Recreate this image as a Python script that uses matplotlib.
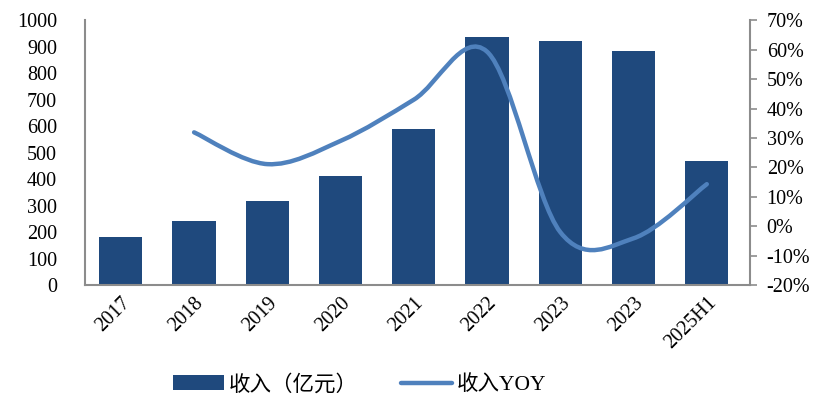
import numpy as np
import matplotlib
matplotlib.use('Agg')
import matplotlib.pyplot as plt
from matplotlib.path import Path
from matplotlib.patches import PathPatch
from matplotlib.lines import Line2D
from matplotlib.patches import Patch
from matplotlib.ticker import FuncFormatter

plt.rcParams['font.family'] = ['Liberation Serif', 'Noto Sans CJK SC']

# data
years = ['2017', '2018', '2019', '2020', '2021', '2022', '2023', '2023', '2025H1']
revenue = [181, 243, 318, 412, 591, 937, 923, 884, 469]
yoy_years = [1, 2, 3, 4, 5, 6, 7, 8]   # index of categories that have a YOY value
yoy = [31.9, 21.1, 29.0, 43.0, 59.3, -2.0, -4.1, 14.3]

bar_color = '#1F497D'
line_color = '#4F81BD'
spine_color = '#8C8C8C'

fig = plt.figure(figsize=(8.17, 3.96), dpi=100)
ax = fig.add_axes([0.104, 0.280, 0.814, 0.669])
ax2 = ax.twinx()

x = np.arange(len(years))
ax.bar(x, revenue, width=0.59, color=bar_color, zorder=2)

ax.set_xlim(-0.49, 8.59)
ax.set_ylim(0, 1000)
ax.set_yticks(np.arange(0, 1001, 100))
ax.set_xticks(x)
ax.set_xticklabels(years, rotation=45, ha='right', rotation_mode='anchor')
ax.tick_params(axis='x', length=0, pad=6, labelsize=14.5)
ax.tick_params(axis='y', length=0, pad=20, labelsize=14.5)

# smooth line (excel-like) built from cubic bezier segments
px = np.array(yoy_years, dtype=float)
py = np.array(yoy, dtype=float)
verts = [(px[0], py[0])]
codes = [Path.MOVETO]
n = len(px)
for i in range(n - 1):
    p0 = (px[max(i - 1, 0)], py[max(i - 1, 0)])
    p1 = (px[i], py[i])
    p2 = (px[i + 1], py[i + 1])
    p3 = (px[min(i + 2, n - 1)], py[min(i + 2, n - 1)])
    c1 = (p1[0] + (p2[0] - p0[0]) / 6, p1[1] + (p2[1] - p0[1]) / 6)
    c2 = (p2[0] - (p3[0] - p1[0]) / 6, p2[1] - (p3[1] - p1[1]) / 6)
    verts += [c1, c2, p2]
    codes += [Path.CURVE4] * 3
patch = PathPatch(Path(verts, codes), facecolor='none', edgecolor=line_color,
                  lw=3.2, capstyle='round', joinstyle='round', zorder=3)
ax2.add_patch(patch)

ax2.set_ylim(-20, 70)
ax2.set_yticks(np.arange(-20, 71, 10))
ax2.yaxis.set_major_formatter(FuncFormatter(lambda v, p: f'{v:.0f}%'))
ax2.tick_params(axis='y', length=5, width=1.2, color=spine_color, pad=7, labelsize=14.5)

for a in (ax, ax2):
    a.spines['top'].set_visible(False)
    for s in ('left', 'right', 'bottom'):
        a.spines[s].set_color(spine_color)
        a.spines[s].set_linewidth(1.5)
ax.spines['right'].set_visible(False)
ax2.spines['left'].set_visible(False)
ax2.spines['bottom'].set_visible(False)

handles = [Patch(facecolor=bar_color, edgecolor='none'),
           Line2D([0], [0], color=line_color, lw=3.2, solid_capstyle='round')]
fig.legend(handles, ['收入（亿元）', '收入YOY'], loc='center', ncol=2,
           bbox_to_anchor=(0.44, 0.028), frameon=False, fontsize=15.5,
           handlelength=2.4, handletextpad=0.2, columnspacing=2.0)

fig.savefig('out.png', dpi=100)
